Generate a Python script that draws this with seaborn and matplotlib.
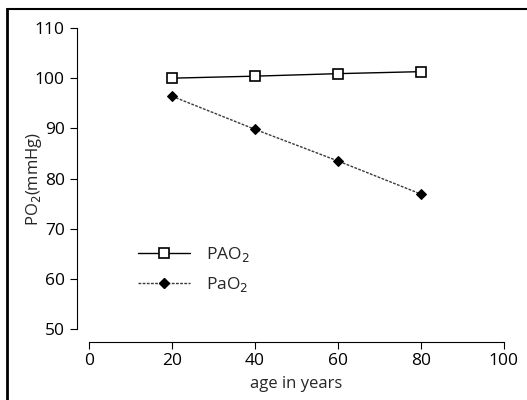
import pandas as pd
import matplotlib
matplotlib.use("Agg")
import matplotlib.pyplot as plt
import seaborn as sns
from matplotlib.lines import Line2D

# dados
idade = [20, 40, 60, 80]
pao2_alveolar = [100.0, 100.4, 100.9, 101.3]
pao2_arterial = [96.4, 89.8, 83.5, 76.9]

x_ticks = [0, 20, 40, 60, 80, 100]
y_ticks = [50, 60, 70, 80, 90, 100, 110]


def montar_dados():
    df_a = pd.DataFrame({"idade": idade, "po2": pao2_alveolar})
    df_b = pd.DataFrame({"idade": idade, "po2": pao2_arterial})
    return df_a, df_b


def gerar_grafico(df_a, df_b):
    sns.set_style("ticks")
    plt.rcParams["font.family"] = ["Open Sans", "DejaVu Sans"]

    fig = plt.figure(figsize=(5.27, 4.0), dpi=100)
    ax = fig.add_axes([0.169, 0.1775, 0.787, 0.7525])

    estilo_a = dict(color="black", linewidth=1.0, marker="s", markersize=7,
                    markerfacecolor="white", markeredgecolor="black",
                    markeredgewidth=1.2)
    estilo_b = dict(color="#3a3a3a", linewidth=1.0, linestyle=(0, (2, 1)),
                    marker="D", markersize=5.5, markerfacecolor="black",
                    markeredgecolor="black")

    sns.lineplot(data=df_a, x="idade", y="po2", ax=ax, **estilo_a)
    sns.lineplot(data=df_b, x="idade", y="po2", ax=ax, **estilo_b)

    ax.set_xlim(0, 100)
    ax.set_ylim(50, 110)
    ax.set_xticks(x_ticks)
    ax.set_yticks(y_ticks)
    ax.tick_params(labelsize=12.5, length=5, width=0.8, colors="black")
    ax.set_xlabel("age in years", fontsize=12)
    ax.set_ylabel("PO$_2$(mmHg)", fontsize=12)
    ax.yaxis.set_label_coords(-0.108, 0.5)
    ax.xaxis.set_label_coords(0.5, -0.155)

    sns.despine(ax=ax, offset=9)
    for lado in ["left", "bottom"]:
        ax.spines[lado].set_linewidth(0.8)
        ax.spines[lado].set_color("black")

    h1 = Line2D([], [], **estilo_a)
    h2 = Line2D([], [], **estilo_b)
    ax.legend([h1, h2], ["PAO$_2$", "PaO$_2$"], frameon=False,
              loc="upper left", bbox_to_anchor=(0.08, 0.33),
              fontsize=12.5, handlelength=3.0, labelspacing=0.6,
              handletextpad=0.9)

    # moldura da figura
    fig.add_artist(Line2D([7 / 527, 7 / 527], [0, 1 - 9 / 400],
                          transform=fig.transFigure, color="black",
                          linewidth=2.0))
    fig.add_artist(Line2D([7 / 527, 1], [1 - 9 / 400, 1 - 9 / 400],
                          transform=fig.transFigure, color="black",
                          linewidth=1.5))

    fig.savefig("out.png", dpi=100)


def main():
    df_a, df_b = montar_dados()
    gerar_grafico(df_a, df_b)


if __name__ == "__main__":
    main()
